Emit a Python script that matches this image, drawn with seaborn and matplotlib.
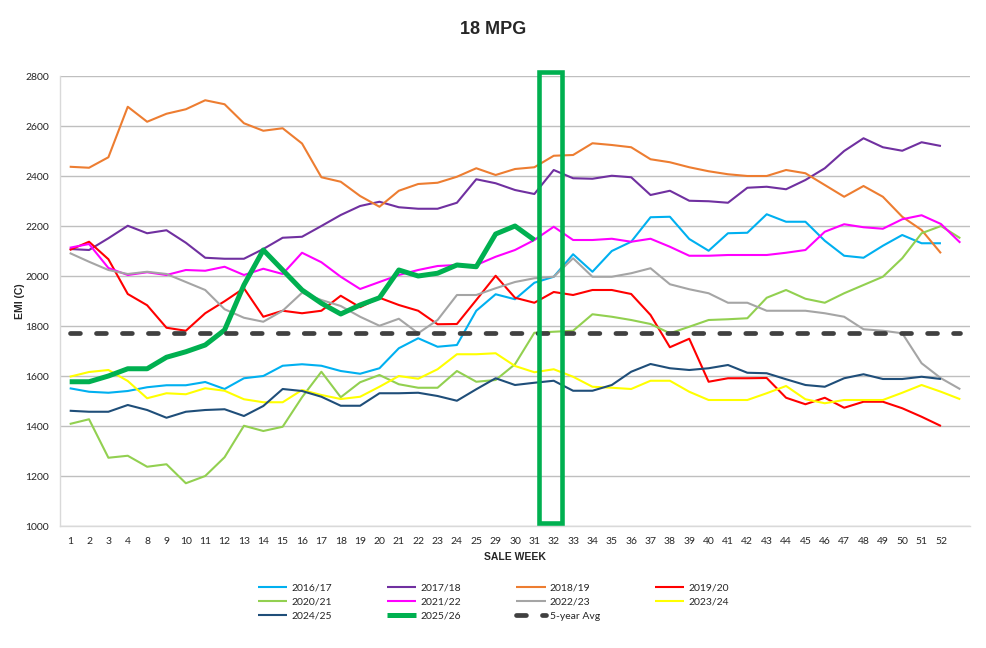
"""
18 MPG - EMI (C) by sale week
"""

import numpy as np
import pandas as pd
import matplotlib
matplotlib.use('Agg')
import matplotlib.pyplot as plt
from matplotlib.patches import Rectangle
import seaborn as sns


# 周次标签（最后一个类别无标签）
weeks = ['1', '2', '3', '4', '8', '9', '10', '11', '12', '13', '14', '15', '16',
         '17', '18', '19', '20', '21', '22', '23', '24', '25', '29', '30', '31',
         '32', '33', '34', '35', '36', '37', '38', '39', '40', '41', '42', '43',
         '44', '45', '46', '47', '48', '49', '50', '51', '52', '']

s2016_17 = [1551, 1537, 1533, 1540, 1555, 1563, 1563, 1576, 1548, 1591, 1600, 1641,
            1647, 1641, 1620, 1609, 1631, 1711, 1751, 1717, 1724, 1861, 1927, 1907,
            1973, 1997, 2087, 2017, 2100, 2137, 2235, 2237, 2148, 2101, 2171, 2173,
            2247, 2217, 2217, 2141, 2081, 2073, 2121, 2164, 2131, 2131]
s2017_18 = [2108, 2104, 2151, 2201, 2171, 2183, 2133, 2073, 2069, 2069, 2108, 2153,
            2157, 2200, 2244, 2280, 2297, 2275, 2269, 2269, 2293, 2387, 2371, 2344,
            2328, 2424, 2391, 2389, 2401, 2395, 2324, 2341, 2301, 2299, 2293, 2353,
            2357, 2347, 2384, 2431, 2500, 2551, 2515, 2501, 2535, 2520]
s2018_19 = [2437, 2433, 2475, 2677, 2617, 2649, 2667, 2703, 2687, 2611, 2581, 2591,
            2530, 2395, 2377, 2320, 2277, 2341, 2368, 2373, 2397, 2431, 2404, 2428,
            2435, 2481, 2484, 2531, 2524, 2515, 2467, 2455, 2435, 2419, 2407, 2400,
            2400, 2424, 2411, 2364, 2317, 2360, 2317, 2237, 2184, 2091]
s2019_20 = [2104, 2137, 2067, 1928, 1883, 1793, 1781, 1851, 1899, 1951, 1837, 1861,
            1851, 1861, 1921, 1875, 1913, 1884, 1861, 1807, 1808, 1904, 2001, 1913,
            1893, 1936, 1924, 1944, 1944, 1928, 1844, 1715, 1749, 1577, 1591, 1591,
            1592, 1513, 1487, 1513, 1473, 1497, 1497, 1471, 1437, 1400]
s2020_21 = [1408, 1427, 1273, 1281, 1237, 1247, 1171, 1200, 1275, 1401, 1380, 1397,
            1515, 1617, 1515, 1575, 1604, 1567, 1553, 1553, 1620, 1577, 1584, 1647,
            1773, 1777, 1781, 1847, 1837, 1824, 1808, 1771, 1797, 1824, 1827, 1831,
            1913, 1944, 1909, 1893, 1931, 1964, 1997, 2071, 2171, 2200, 2151]
s2021_22 = [2113, 2128, 2032, 2004, 2015, 2004, 2024, 2021, 2037, 2004, 2029, 2008,
            2093, 2055, 1997, 1948, 1976, 2004, 2024, 2040, 2044, 2044, 2077, 2104,
            2144, 2197, 2144, 2144, 2149, 2137, 2149, 2117, 2081, 2081, 2084, 2084,
            2084, 2093, 2104, 2177, 2207, 2195, 2189, 2227, 2243, 2208, 2133]
s2022_23 = [2092, 2057, 2024, 2008, 2017, 2008, 1976, 1944, 1867, 1833, 1817, 1861,
            1933, 1904, 1880, 1837, 1801, 1829, 1771, 1824, 1924, 1924, 1951, 1976,
            1991, 1997, 2071, 1997, 1997, 2011, 2031, 1967, 1947, 1931, 1893, 1893,
            1861, 1861, 1861, 1851, 1837, 1787, 1781, 1771, 1651, 1591, 1547]
s2023_24 = [1597, 1616, 1624, 1580, 1511, 1531, 1527, 1551, 1541, 1507, 1495, 1495,
            1544, 1524, 1508, 1517, 1557, 1600, 1589, 1627, 1687, 1687, 1691, 1640,
            1615, 1627, 1597, 1557, 1553, 1548, 1581, 1581, 1537, 1504, 1504, 1504,
            1531, 1560, 1507, 1491, 1504, 1504, 1504, 1533, 1564, 1537, 1507]
s2024_25 = [1461, 1457, 1457, 1484, 1464, 1433, 1457, 1464, 1467, 1440, 1480, 1548,
            1540, 1517, 1481, 1481, 1531, 1531, 1533, 1520, 1501, 1547, 1591, 1564,
            1573, 1581, 1541, 1541, 1564, 1617, 1648, 1631, 1624, 1631, 1644, 1613,
            1611, 1587, 1564, 1557, 1591, 1607, 1588, 1588, 1597, 1588]
s2025_26 = [1577, 1577, 1600, 1629, 1629, 1675, 1697, 1724, 1784, 1964, 2104, 2024,
            1944, 1891, 1848, 1884, 1913, 2024, 2000, 2011, 2044, 2037, 2168, 2200,
            2144]
five_year_avg = 1772

highlight_week = '32'

series = [
    ('2016/17', s2016_17, '#00B0F0', 1.5),
    ('2017/18', s2017_18, '#7030A0', 1.5),
    ('2018/19', s2018_19, '#ED7D31', 1.5),
    ('2019/20', s2019_20, '#FF0000', 1.5),
    ('2020/21', s2020_21, '#92D050', 1.5),
    ('2021/22', s2021_22, '#FF00FF', 1.5),
    ('2022/23', s2022_23, '#A5A5A5', 1.5),
    ('2023/24', s2023_24, '#FFFF00', 1.5),
    ('2024/25', s2024_25, '#1F4E79', 1.5),
    ('2025/26', s2025_26, '#00B050', 3.6),
]

sns.set_style('white')
plt.rcParams['font.family'] = ['Lato', 'DejaVu Sans']
BOLD_FONT = ['Liberation Sans', 'DejaVu Sans']

fig = plt.figure(figsize=(9.87, 6.48), dpi=100)
ax = fig.add_axes([60 / 987, 1 - 526 / 648, 910 / 987, 450 / 648])

pos = np.arange(len(weeks))
handles = {}
for name, vals, color, lw in series:
    df = pd.DataFrame({'pos': pos[:len(vals)], 'emi': vals})
    sns.lineplot(data=df, x='pos', y='emi', color=color, lw=lw, ax=ax,
                 label=name, legend=False, solid_capstyle='butt')
    handles[name] = ax.lines[-1]

# 5年平均线
avg_line, = ax.plot(pos, np.full(len(pos), five_year_avg), color='#404040', lw=3.4,
                    dashes=(2.1, 3.4), dash_capstyle='round', label='5-year Avg')
handles['5-year Avg'] = avg_line

# 高亮框
hi = weeks.index(highlight_week)
ax.add_patch(Rectangle((hi - 0.76, 1012), 1.19, 1805, fill=False,
                       edgecolor='#00B050', lw=3.3, clip_on=False, zorder=5))

ax.set_xlim(-0.5, len(weeks) - 0.5)
ax.set_ylim(1000, 2800)
ax.set_xticks(pos)
ax.set_xticklabels(weeks)
ax.set_yticks(np.arange(1000, 2801, 200))
ax.tick_params(axis='both', length=0, labelsize=7.5)
ax.tick_params(axis='x', pad=8)
ax.tick_params(axis='y', pad=8)
ax.grid(axis='y', color='#BFBFBF', lw=1)
ax.set_axisbelow(True)
for side in ['top', 'right']:
    ax.spines[side].set_visible(False)
for side in ['left', 'bottom']:
    ax.spines[side].set_color('#D9D9D9')
    ax.spines[side].set_linewidth(1)

ax.set_xlabel('SALE WEEK', fontsize=7.5, fontweight='bold', family=BOLD_FONT,
              labelpad=4)
ax.set_ylabel('EMI (C)', fontsize=7.5, fontweight='bold', family=BOLD_FONT,
              labelpad=0)

fig.text(0.5, 1 - 30 / 648, '18 MPG', ha='center', va='center',
         fontsize=13, fontweight='bold', family=BOLD_FONT)

order = ['2016/17', '2020/21', '2024/25', '2017/18', '2021/22', '2025/26',
         '2018/19', '2022/23', '5-year Avg', '2019/20', '2023/24']
fig.legend([handles[k] for k in order], order, loc='center',
           bbox_to_anchor=(0.5, 1 - 602 / 648), ncol=4, frameon=False,
           fontsize=7.5, handlelength=2.8, handletextpad=0.4,
           columnspacing=5.3, labelspacing=0.45)

plt.savefig('out.png', dpi=100)
plt.close(fig)
